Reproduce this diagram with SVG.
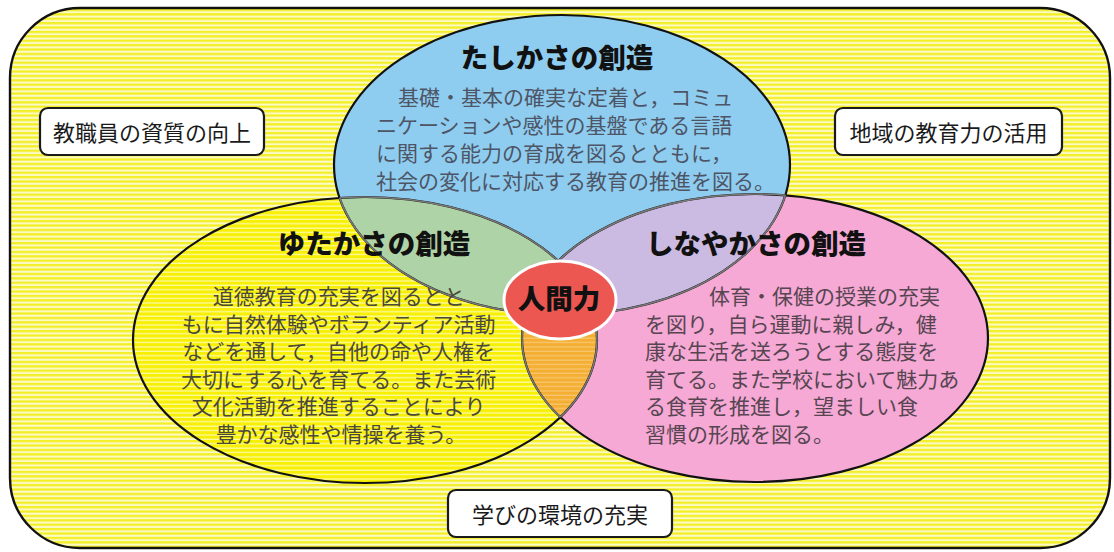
<svg xmlns="http://www.w3.org/2000/svg" width="1114" height="552" viewBox="0 0 1114 552">
  <style>
    .title { font-family: "Noto Sans CJK JP", "Noto Sans", sans-serif; font-weight: 900; font-size: 27.5px; fill: #111; text-anchor: middle; }
    .body { font-family: "Noto Sans CJK JP", "Noto Sans", sans-serif; font-weight: 400; font-size: 21px; }
    .boxtxt { font-family: "Noto Sans CJK JP", "Noto Sans", sans-serif; font-weight: 400; font-size: 22px; fill: #1a1a1a; text-anchor: middle; }
    .box { fill: #ffffff; stroke: #1a1a1a; stroke-width: 2.2; }
    .outer { fill: none; stroke: #111; stroke-width: 2.2; }
    .inner { fill: none; stroke: #7a7a7a; stroke-width: 1.6; }
  </style>
  <defs>
    <pattern id="bgStripe" width="8" height="4.4" patternUnits="userSpaceOnUse">
      <rect width="8" height="4.4" fill="#fbfac6"/>
      <rect width="8" height="2.3" fill="#f3ee26"/>
    </pattern>
    <pattern id="yStripe" width="8" height="4.4" patternUnits="userSpaceOnUse">
      <rect width="8" height="4.4" fill="#f8f002"/>
      <rect y="3.1" width="8" height="1.3" fill="#fcf9a6"/>
    </pattern>
    <pattern id="oStripe" width="8" height="4.4" patternUnits="userSpaceOnUse">
      <rect width="8" height="4.4" fill="#f4ae32"/>
      <rect y="3.1" width="8" height="1.3" fill="#f8c670"/>
    </pattern>
    <clipPath id="cBlue"><ellipse cx="562" cy="165" rx="228" ry="150"/></clipPath>
    <clipPath id="cYellow"><ellipse cx="365" cy="340" rx="232" ry="143"/></clipPath>
    <clipPath id="cPink"><ellipse cx="755" cy="338" rx="233" ry="144"/></clipPath>
    <clipPath id="cNotBlue"><ellipse cx="365" cy="340" rx="232" ry="143"/><ellipse cx="755" cy="338" rx="233" ry="144"/></clipPath>
    <clipPath id="cNotYellow"><ellipse cx="562" cy="165" rx="228" ry="150"/><ellipse cx="755" cy="338" rx="233" ry="144"/></clipPath>
    <clipPath id="cNotPink"><ellipse cx="562" cy="165" rx="228" ry="150"/><ellipse cx="365" cy="340" rx="232" ry="143"/></clipPath>
  </defs>

  <rect width="1114" height="552" fill="#ffffff"/>

  <g id="background">
    <rect x="10" y="8" width="1100" height="540" rx="70" ry="70" fill="url(#bgStripe)" stroke="#111" stroke-width="2.4"/>
  </g>

  <g id="circles">
    <ellipse cx="562" cy="165" rx="228" ry="150" fill="#8fcdf0"/>
    <ellipse cx="365" cy="340" rx="232" ry="143" fill="url(#yStripe)"/>
    <ellipse cx="755" cy="338" rx="233" ry="144" fill="#f5a9d4"/>
    <ellipse cx="365" cy="340" rx="232" ry="143" fill="#aed3a6" clip-path="url(#cBlue)"/>
    <ellipse cx="755" cy="338" rx="233" ry="144" fill="#cbbae2" clip-path="url(#cBlue)"/>
    <ellipse cx="755" cy="338" rx="233" ry="144" fill="url(#oStripe)" clip-path="url(#cYellow)"/>
    <ellipse class="outer" cx="562" cy="165" rx="228" ry="150"/>
    <ellipse class="outer" cx="365" cy="340" rx="232" ry="143"/>
    <ellipse class="outer" cx="755" cy="338" rx="233" ry="144"/>
    <ellipse class="inner" cx="562" cy="165" rx="228" ry="150" clip-path="url(#cNotBlue)"/>
    <ellipse class="inner" cx="365" cy="340" rx="232" ry="143" clip-path="url(#cNotYellow)"/>
    <ellipse class="inner" cx="755" cy="338" rx="233" ry="144" clip-path="url(#cNotPink)"/>
  </g>

  <g id="tashikasa">
    <text class="title" x="557" y="68">たしかさの創造</text>
    <text class="body" fill="#4d5566" font-size="20.6">
      <tspan x="398" y="105">基礎・基本の確実な定着と，コミュ</tspan>
      <tspan x="376" y="133">ニケーションや感性の基盤である言語</tspan>
      <tspan x="376" y="161">に関する能力の育成を図るとともに，</tspan>
      <tspan x="376" y="189">社会の変化に対応する教育の推進を図る。</tspan>
    </text>
  </g>

  <g id="yutakasa">
    <text class="title" x="374" y="254">ゆたかさの創造</text>
    <text class="body" fill="#4a4838" text-anchor="middle">
      <tspan x="341" y="304">道徳教育の充実を図るとと</tspan>
      <tspan x="341" y="331.5">もに自然体験やボランティア活動</tspan>
      <tspan x="341" y="359">などを通して，自他の命や人権を</tspan>
      <tspan x="341" y="386.5">大切にする心を育てる。また芸術</tspan>
      <tspan x="341" y="414">文化活動を推進することにより</tspan>
      <tspan x="341" y="441.5">豊かな感性や情操を養う。</tspan>
    </text>
  </g>

  <g id="shinayakasa">
    <text class="title" x="756" y="254">しなやかさの創造</text>
    <text class="body" fill="#574552" font-size="21.2">
      <tspan x="709" y="304">体育・保健の授業の充実</tspan>
      <tspan x="645" y="331.5">を図り，自ら運動に親しみ，健</tspan>
      <tspan x="645" y="359">康な生活を送ろうとする態度を</tspan>
      <tspan x="645" y="386.5">育てる。また学校において魅力あ</tspan>
      <tspan x="645" y="414">る食育を推進し，望ましい食</tspan>
      <tspan x="645" y="441.5">習慣の形成を図る。</tspan>
    </text>
  </g>

  <g id="ningenryoku">
    <ellipse cx="560" cy="300" rx="56" ry="39" fill="#ec5752" stroke="#ffffff" stroke-width="3"/>
    <text class="title" x="559" y="309" font-size="28">人間力</text>
  </g>

  <g id="box-staff">
    <rect class="box" x="40" y="108" width="224" height="47" rx="8" ry="8"/>
    <text class="boxtxt" x="152" y="141">教職員の資質の向上</text>
  </g>

  <g id="box-community">
    <rect class="box" x="835" y="108" width="227" height="47" rx="8" ry="8"/>
    <text class="boxtxt" x="948.5" y="141">地域の教育力の活用</text>
  </g>

  <g id="box-environment">
    <rect class="box" x="448" y="490" width="224" height="47" rx="8" ry="8"/>
    <text class="boxtxt" x="560" y="523">学びの環境の充実</text>
  </g>
</svg>
